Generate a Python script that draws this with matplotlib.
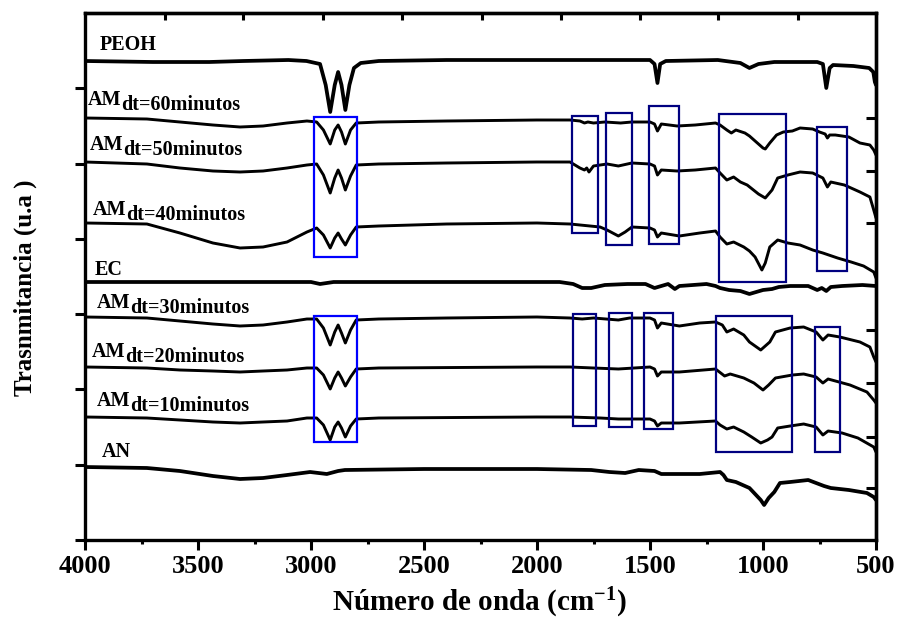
import matplotlib
matplotlib.use("Agg")
import matplotlib.pyplot as plt
from matplotlib.patches import Rectangle
import numpy as np

plt.rcParams['font.family'] = ['Liberation Serif', 'DejaVu Serif']
plt.rcParams['font.weight'] = 'bold'
plt.rcParams['axes.labelweight'] = 'bold'
plt.rcParams['mathtext.fontset'] = 'custom'
plt.rcParams['mathtext.rm'] = 'Liberation Serif:bold'
plt.rcParams['mathtext.bf'] = 'Liberation Serif:bold'
plt.rcParams['mathtext.it'] = 'Liberation Serif:bold:italic'

# espectros FTIR (numero de onda, transmitancia en u.a. con desplazamiento)
peoh_wn = [4000, 3700, 3450, 3300, 3100, 3020, 2960, 2935, 2915, 2895, 2880, 2865, 2848, 2830, 2810,
           2780, 2700, 2400, 2000, 1600, 1500, 1480, 1467, 1455, 1430, 1200, 1100, 1060, 1020, 950,
           760, 735, 720, 705, 690, 600, 530, 512, 505, 500]
peoh_t = [479, 478, 478, 479, 480, 479, 476, 455, 428, 455, 468, 455, 430, 455, 472,
          477, 479, 480, 480, 480, 480, 476, 457, 476, 479, 480, 477, 472, 476, 478,
          478, 476, 452, 472, 475, 474, 472, 468, 458, 455]

am60_wn = [4000, 3726, 3580, 3434, 3314, 3212, 3106, 3018, 2975, 2945, 2915, 2895, 2880, 2865, 2848,
           2825, 2800, 2700, 2400, 2000, 1854, 1810, 1790, 1775, 1750, 1700, 1630, 1580, 1500, 1480,
           1467, 1450, 1380, 1300, 1210, 1190, 1160, 1140, 1120, 1080, 1060, 1030, 1000, 990, 970,
           940, 910, 870, 836, 780, 750, 725, 715, 705, 680, 620, 571, 527, 510, 500]
am60_t = [422, 421, 418, 415, 413, 414, 417, 419, 418, 410, 396, 410, 415, 408, 396,
          410, 417, 418, 419, 420, 420, 419, 417, 418, 417, 418, 417, 418, 418, 416,
          409, 416, 414, 415, 417, 415, 410, 407, 410, 407, 404, 398, 392, 391, 397,
          405, 408, 409, 412, 411, 408, 406, 402, 405, 405, 403, 397, 395, 390, 385]

am50_wn = [4000, 3726, 3580, 3434, 3314, 3212, 3106, 3018, 2975, 2945, 2915, 2895, 2880, 2865, 2848,
           2825, 2800, 2700, 2400, 2000, 1854, 1810, 1790, 1780, 1770, 1750, 1690, 1640, 1580, 1500,
           1480, 1467, 1450, 1380, 1300, 1210, 1190, 1160, 1130, 1100, 1070, 1020, 990, 960, 935,
           890, 836, 780, 735, 715, 700, 640, 571, 527, 510, 500]
am50_t = [378, 376, 372, 369, 368, 369, 372, 375, 376, 365, 347, 362, 370, 362, 350,
          364, 375, 376, 377, 378, 378, 372, 370, 372, 368, 374, 376, 374, 377, 376,
          374, 365, 370, 369, 370, 372, 367, 360, 363, 358, 355, 346, 342, 350, 362,
          365, 368, 367, 362, 353, 358, 355, 348, 343, 330, 322]

am40_wn = [4000, 3726, 3580, 3434, 3314, 3212, 3106, 3018, 2975, 2945, 2915, 2895, 2880, 2865, 2848,
           2825, 2800, 2700, 2400, 2000, 1854, 1721, 1690, 1640, 1610, 1580, 1500, 1480, 1467, 1450,
           1370, 1280, 1210, 1190, 1160, 1130, 1085, 1060, 1035, 1005, 990, 970, 935, 890, 836,
           780, 735, 670, 610, 555, 510, 500]
am40_t = [317, 316, 307, 297, 292, 293, 298, 308, 312, 305, 292, 302, 307, 301, 295,
          305, 313, 314, 316, 317, 316, 313, 310, 304, 308, 313, 312, 310, 303, 307,
          304, 307, 309, 303, 296, 298, 293, 289, 283, 270, 277, 293, 300, 297, 295,
          290, 287, 282, 278, 274, 268, 262]

ec_wn = [4000, 3000, 2960, 2900, 2000, 1900, 1840, 1800, 1760, 1700, 1600, 1520, 1480, 1450, 1420,
         1390, 1370, 1250, 1210, 1190, 1150, 1100, 1060, 1000, 960, 930, 880, 800, 760, 740,
         720, 700, 650, 560, 500]
ec_t = [258, 258, 256, 258, 258, 258, 256, 252, 252, 255, 256, 256, 252, 254, 256,
        251, 254, 256, 254, 252, 250, 249, 246, 250, 251, 253, 254, 254, 250, 252,
        249, 253, 254, 255, 254]

am30_wn = [4000, 3726, 3580, 3434, 3314, 3212, 3106, 3018, 2975, 2945, 2915, 2895, 2880, 2865, 2848,
           2825, 2800, 2700, 2400, 2000, 1854, 1800, 1750, 1640, 1590, 1500, 1480, 1467, 1450, 1370,
           1280, 1210, 1180, 1160, 1130, 1085, 1060, 1010, 990, 970, 945, 880, 820, 765, 735,
           712, 660, 571, 527, 510, 500]
am30_t = [223, 222, 219, 216, 214, 215, 218, 221, 221, 212, 195, 208, 215, 207, 197,
          210, 220, 221, 222, 223, 222, 221, 222, 220, 222, 222, 220, 212, 217, 214,
          217, 218, 215, 208, 211, 205, 198, 190, 194, 198, 208, 212, 213, 208, 200,
          205, 203, 198, 193, 183, 178]

am20_wn = [4000, 3726, 3580, 3434, 3314, 3212, 3106, 3018, 2975, 2945, 2915, 2895, 2880, 2865, 2848,
           2825, 2800, 2700, 2000, 1854, 1750, 1640, 1500, 1480, 1467, 1450, 1370, 1210, 1170, 1145,
           1085, 1040, 1000, 975, 945, 870, 820, 765, 735, 712, 615, 540, 510, 500]
am20_t = [173, 172, 170, 169, 168, 169, 170, 172, 172, 165, 151, 162, 168, 162, 154,
          163, 171, 172, 173, 173, 172, 171, 173, 171, 164, 168, 168, 171, 164, 166,
          162, 157, 150, 155, 162, 165, 166, 163, 157, 161, 155, 148, 140, 137]

am10_wn = [4000, 3726, 3580, 3434, 3314, 3212, 3106, 3018, 2975, 2945, 2915, 2895, 2880, 2865, 2848,
           2825, 2800, 2700, 2000, 1854, 1720, 1640, 1500, 1480, 1467, 1450, 1370, 1210, 1190, 1160,
           1130, 1085, 1050, 1010, 980, 960, 935, 880, 820, 765, 735, 712, 650, 580, 510, 500]
am10_t = [123, 122, 120, 118, 117, 118, 119, 122, 122, 115, 100, 113, 118, 112, 103,
          114, 121, 122, 123, 123, 122, 121, 121, 119, 114, 117, 117, 119, 115, 111,
          113, 108, 103, 97, 100, 103, 112, 114, 116, 113, 105, 109, 107, 102, 93, 88]

an_wn = [4000, 3726, 3580, 3434, 3314, 3212, 3106, 3004, 2930, 2880, 2850, 2500, 2000, 1760, 1680,
         1610, 1550, 1480, 1450, 1280, 1190, 1175, 1160, 1120, 1090, 1060, 1035, 1010, 995, 975,
         950, 925, 880, 800, 730, 700, 620, 540, 510, 500]
an_t = [73, 72, 69, 64, 61, 62, 65, 68, 66, 69, 70, 71, 71, 70, 68,
        67, 70, 69, 66, 66, 68, 65, 60, 58, 55, 52, 46, 40, 35, 42,
        48, 57, 58, 60, 54, 52, 50, 47, 43, 40]

names = ['PEOH', 'AM60', 'AM50', 'AM40', 'EC', 'AM30', 'AM20', 'AM10', 'AN']
times = ['', 'dt=60minutos', 'dt=50minutos', 'dt=40minutos', '', 'dt=30minutos',
         'dt=20minutos', 'dt=10minutos', '']
label_pos = [(3934, 490), (3987, 435), (3978, 390), (3965, 325), (3956, 265),
             (3947, 232), (3969, 183), (3947, 134), (3925, 83)]

# recuadros (wn inicial, wn final, y inferior, y superior, color)
boxes = [(2985, 2797, 283, 423, '#0000ff'), (2985, 2797, 98, 224, '#0000ff'),
         (1845, 1730, 307, 424, '#000080'), (1695, 1580, 295, 427, '#000080'),
         (1504, 1372, 296, 434, '#000080'), (1195, 898, 258, 426, '#000080'),
         (761, 628, 269, 413, '#000080'),
         (1841, 1739, 114, 226, '#000080'), (1681, 1580, 113, 227, '#000080'),
         (1526, 1398, 111, 227, '#000080'), (1208, 872, 88, 224, '#000080'),
         (770, 659, 88, 213, '#000080')]

spectra = [(peoh_wn, peoh_t, 2.7), (am60_wn, am60_t, 2.1), (am50_wn, am50_t, 2.1),
           (am40_wn, am40_t, 2.1), (ec_wn, ec_t, 2.7), (am30_wn, am30_t, 2.1),
           (am20_wn, am20_t, 2.1), (am10_wn, am10_t, 2.1), (an_wn, an_t, 2.7)]

fig = plt.figure(figsize=(9.02, 6.36), dpi=100)
ax = fig.add_axes([85/902, 96/636, 791/902, 527/636])

for wn, t, lw in spectra:
    ax.plot(wn, t, color='black', lw=lw, solid_joinstyle='round', solid_capstyle='round')

for x0, x1, y0, y1, c in boxes:
    ax.add_patch(Rectangle((x1, y0), x0 - x1, y1 - y0, fill=False, edgecolor=c, lw=1.6, zorder=3))

for name, sub, (x, y) in zip(names, times, label_pos):
    main = name[:2] if sub else name
    txt = ax.text(x, y, main, fontsize=14.5, fontweight='bold', va='baseline', ha='left')
    if sub:
        ax.annotate(sub, xy=(1, 0), xycoords=txt, xytext=(0, -3.5), textcoords='offset points',
                    fontsize=14.5, fontweight='bold', va='bottom', ha='left')

ax.set_xlim(4000, 500)
ax.set_ylim(0, 527)
ax.set_xticks(np.arange(4000, 499, -500))
ax.set_xticks(np.arange(3750, 500, -500), minor=True)
ax.set_yticks(np.arange(7) * 75.3)
ax.set_yticklabels([])
ax.tick_params(axis='x', which='major', direction='out', length=7, width=2.2, labelsize=19, pad=4)
ax.tick_params(axis='x', which='minor', direction='out', length=3, width=2.2)
ax.tick_params(axis='y', which='major', direction='out', length=7, width=2.2)
for lab in ax.get_xticklabels():
    lab.set_fontweight('bold')
for s in ax.spines.values():
    s.set_linewidth(2.4)

top = ax.secondary_xaxis('top')
top.set_xticks([3646, 3300, 2948, 2598, 2244, 1896, 1544, 1198, 846])
top.tick_params(direction='in', length=5, width=2.2, labeltop=False)
top.spines['top'].set_linewidth(2.4)

right = ax.secondary_yaxis('right')
right.set_yticks([422, 369, 317, 210, 157, 103, 52])
right.tick_params(direction='in', length=7, width=2.2, labelright=False)
right.spines['right'].set_linewidth(2.4)

ax.set_xlabel(r'Número de onda (cm$^{\mathbf{-1}}$)', fontsize=21, fontweight='bold')
ax.xaxis.set_label_coords(0.498, -0.12)
ax.xaxis.label.set_va('center')
ax.set_ylabel('Trasnmitancia (u.a )', fontsize=18, fontweight='bold')
ax.yaxis.set_label_coords(-0.076, 0.478)
ax.yaxis.label.set_va('center')

fig.savefig('out.png', dpi=100)
